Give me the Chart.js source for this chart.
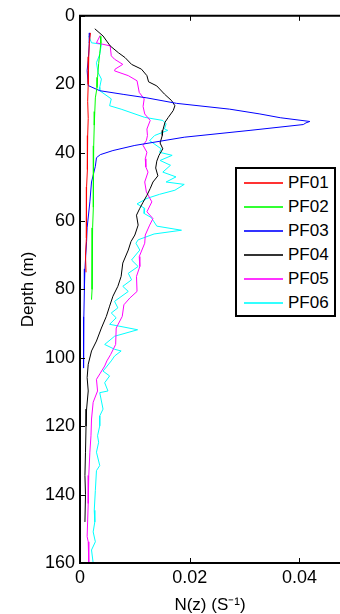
<!DOCTYPE html>
<html lang="en">
<head>
<meta charset="UTF-8">
<title>N(z) profiles PF01-PF06</title>
<script src="https://cdn.jsdelivr.net/npm/chart.js"></script>
<style>
  body { margin: 0; background: #fff; font-family: "Liberation Sans", Arial, sans-serif; }
  .wrap { position: relative; width: 340px; height: 614px; overflow: hidden; }
  #legend {
    position: absolute; left: 235px; top: 167px; width: 101px; height: 150px;
    box-sizing: border-box; border: 2px solid #000; background: #fff; padding-top: 2px;
  }
  .row { height: 24px; display: flex; align-items: center; font-size: 17px; color: #000; }
  .swatch { display: block; margin-left: 7px; width: 39px; height: 2px; margin-right: 5px; opacity: 0.8; flex: none; }
</style>
</head>
<body>
<div class="wrap">
  <canvas id="chart" width="340" height="614"></canvas>
  <div id="legend"></div>
</div>
<script>
// axes
const yTicks = [0, 20, 40, 60, 80, 100, 120, 140, 160];
const xTicks = [0, 0.02, 0.04];
const xTickLabels = ['0', '0.02', '0.04'];

// profiles: depth (m) and N(z) (s^-1)
const pf01Depth = [5, 8, 12, 16, 20, 25, 30, 35, 40, 45, 50, 55, 60, 65, 70, 75];
const pf01N = [0.0019, 0.0017, 0.0016, 0.0015, 0.0015, 0.0014, 0.0015, 0.0014, 0.0014, 0.0013, 0.0012, 0.0012, 0.0012, 0.0011, 0.0010, 0.0011];

const pf02Depth = [6, 8, 11, 14, 18, 21, 24, 28, 32, 38, 44, 50, 56, 62, 66, 70, 75, 80, 83];
const pf02N = [0.0037, 0.0038, 0.0036, 0.0034, 0.0032, 0.0031, 0.0028, 0.0027, 0.0026, 0.0025, 0.0025, 0.0024, 0.0024, 0.0023, 0.0022, 0.0022, 0.0022, 0.0022, 0.0021];

const pf03Depth = [5, 8, 13, 16, 20.4, 21.9, 23.0, 24.0, 25.6, 27.3, 28.7, 29.8, 30.9, 31.3, 31.8, 33.5, 35.5, 37.9, 39.4, 40.6, 41.5, 44, 48.6, 54.4, 62, 66, 74, 80, 88, 95, 103];
const pf03N = [0.0018, 0.0017, 0.0015, 0.0013, 0.0015, 0.0036, 0.0080, 0.0122, 0.0176, 0.0273, 0.0328, 0.0365, 0.0419, 0.0412, 0.0407, 0.0310, 0.0190, 0.0100, 0.0060, 0.0037, 0.0030, 0.0028, 0.0021, 0.0018, 0.0013, 0.0012, 0.0009, 0.0008, 0.0007, 0.0006, 0.0007];

const pf04Depth = [3.8, 5.9, 8.8, 10.8, 12.2, 14.2, 15.6, 17.5, 19.3, 20.5, 22.9, 24.8, 26.3, 27.7, 29.7, 31.1, 33.5, 35, 37.2, 38.9, 40.8, 42.5, 44.5, 46.8, 48.6, 50.5, 52.5, 54.5, 56.3, 58.3, 61.2, 64.1, 66, 68.5, 72.3, 76.2, 79.1, 82, 84.9, 87.9, 91.3, 95.1, 98, 101.9, 105.8, 109.7, 115, 120, 127.6, 134.4, 140, 148];
const pf04N = [0.0027, 0.0042, 0.0055, 0.0070, 0.0082, 0.0094, 0.0112, 0.0122, 0.0125, 0.0140, 0.0154, 0.0167, 0.0173, 0.0170, 0.0161, 0.0155, 0.0151, 0.0150, 0.0146, 0.0151, 0.0144, 0.0140, 0.0138, 0.0142, 0.0133, 0.0128, 0.0122, 0.0115, 0.0109, 0.0103, 0.0106, 0.0100, 0.0093, 0.0088, 0.0078, 0.0075, 0.0069, 0.0060, 0.0054, 0.0048, 0.0039, 0.0030, 0.0021, 0.0015, 0.0013, 0.0015, 0.0012, 0.0011, 0.0010, 0.0009, 0.0010, 0.0009];

const pf05Depth = [5.7, 7.9, 8.8, 11.7, 12.7, 14.2, 15.6, 16.1, 17.5, 19, 22.4, 24.3, 26.5, 28.7, 30.6, 33.1, 35, 36.5, 37.9, 39.9, 41.8, 44.2, 45.7, 48.6, 51.5, 54.4, 57.3, 59.3, 61.2, 64.1, 66.5, 70.4, 73.3, 76.2, 80.6, 82.5, 84.5, 87.9, 91.3, 96.1, 99, 100.9, 102.4, 104.5, 106.3, 109.7, 113, 117.9, 122.8, 127.6, 134.4, 142.6, 152.3, 153.8, 160];
const pf05N = [0.0037, 0.0030, 0.0055, 0.0057, 0.0063, 0.0078, 0.0064, 0.0063, 0.0088, 0.0104, 0.0108, 0.0117, 0.0115, 0.0118, 0.0128, 0.0122, 0.0123, 0.0121, 0.0115, 0.0122, 0.0119, 0.0120, 0.0124, 0.0118, 0.0121, 0.0131, 0.0122, 0.0133, 0.0127, 0.0119, 0.0118, 0.0108, 0.0109, 0.0103, 0.0104, 0.0091, 0.0080, 0.0077, 0.0066, 0.0065, 0.0056, 0.0049, 0.0045, 0.0037, 0.0030, 0.0032, 0.0024, 0.0021, 0.0020, 0.0018, 0.0016, 0.0015, 0.0013, 0.0015, 0.0016];

const pf06Depth = [5.9, 7.9, 8.3, 11.3, 13.7, 16.6, 18.5, 20.9, 21.9, 24.3, 26.3, 27.3, 29.7, 30.6, 31.6, 33.1, 33.5, 35, 36.5, 38.9, 39.9, 40.8, 42.3, 43.7, 45.7, 47.1, 48.6, 49.3, 51, 52.2, 53.4, 55, 56.3, 57.8, 59, 61.5, 62.7, 63.8, 65.5, 66.5, 68.5, 71.4, 73.3, 75.3, 77.2, 79.1, 80.6, 83.5, 85.4, 86.9, 88.3, 90.2, 91.8, 93.7, 96.1, 97.5, 98, 99.5, 100.9, 103.9, 105.3, 107.3, 109.7, 110.2, 115, 117, 119.9, 122.8, 124.7, 127.6, 131.5, 133, 138.8, 144.6, 148, 150.9, 153.8, 156.2, 160];
const pf06N = [0.0016, 0.0021, 0.0039, 0.0036, 0.0030, 0.0033, 0.0039, 0.0036, 0.0036, 0.0057, 0.0054, 0.0075, 0.0118, 0.0151, 0.0157, 0.0154, 0.0160, 0.0136, 0.0127, 0.0148, 0.0145, 0.0168, 0.0146, 0.0165, 0.0151, 0.0175, 0.0157, 0.0190, 0.0173, 0.0145, 0.0122, 0.0104, 0.0118, 0.0117, 0.0130, 0.0140, 0.0185, 0.0135, 0.0106, 0.0102, 0.0109, 0.0094, 0.0106, 0.0088, 0.0094, 0.0078, 0.0088, 0.0063, 0.0069, 0.0057, 0.0066, 0.0054, 0.0105, 0.0063, 0.0045, 0.0063, 0.0075, 0.0063, 0.0057, 0.0042, 0.0054, 0.0045, 0.0051, 0.0036, 0.0042, 0.0036, 0.0036, 0.0032, 0.0034, 0.0030, 0.0036, 0.0030, 0.0028, 0.0026, 0.0027, 0.0024, 0.0028, 0.0021, 0.0024];

const labels = ['PF01', 'PF02', 'PF03', 'PF04', 'PF05', 'PF06'];
const colors = ['#ff0000', '#00ff00', '#0000ff', '#000000', '#ff00ff', '#00ffff'];
const depths = [pf01Depth, pf02Depth, pf03Depth, pf04Depth, pf05Depth, pf06Depth];
const values = [pf01N, pf02N, pf03N, pf04N, pf05N, pf06N];

const FONT = '"Liberation Sans", Arial, sans-serif';

const datasets = labels.map((lab, i) => ({
  label: lab,
  data: depths[i].map((d, j) => ({ x: values[i][j], y: d })),
  borderColor: colors[i],
  borderWidth: 1,
  pointRadius: 0,
  showLine: true,
  tension: 0,
  fill: false
}));

// box + inward ticks, matlab style
const axesBox = {
  id: 'axesBox',
  afterDraw(chart) {
    const { ctx, chartArea: a, scales: { x, y } } = chart;
    ctx.save();
    ctx.strokeStyle = '#000';
    ctx.lineWidth = 1;
    ctx.beginPath();
    yTicks.forEach(v => {
      const py = Math.round(y.getPixelForValue(v)) + 0.5;
      ctx.moveTo(a.left, py); ctx.lineTo(a.left + 5, py);
    });
    xTicks.forEach(v => {
      const px = Math.round(x.getPixelForValue(v)) + 0.5;
      ctx.moveTo(px, a.bottom); ctx.lineTo(px, a.bottom - 5);
      ctx.moveTo(px, a.top); ctx.lineTo(px, a.top + 5);
    });
    ctx.stroke();
    ctx.lineWidth = 2;
    ctx.beginPath();
    ctx.moveTo(a.right + 2, a.top); ctx.lineTo(a.left, a.top);
    ctx.lineTo(a.left, a.bottom); ctx.lineTo(a.right + 2, a.bottom);
    ctx.stroke();
    ctx.restore();
  }
};

const chart = new Chart(document.getElementById('chart'), {
  type: 'scatter',
  data: { datasets },
  options: {
    responsive: false,
    animation: false,
    layout: { padding: { top: 13, right: 0, left: 0, bottom: 0 } },
    plugins: { legend: { display: false }, tooltip: { enabled: false } },
    scales: {
      x: {
        type: 'linear', position: 'bottom', min: 0, max: 0.0474,
        grid: { display: false, drawTicks: false },
        border: { display: false },
        afterBuildTicks: s => { s.ticks = xTicks.map(v => ({ value: v })); },
        afterFit: s => { s.height = 51; },
        ticks: {
          padding: 4, color: '#000', font: { family: FONT, size: 18 },
          maxRotation: 0, autoSkip: false,
          callback: (v, i) => xTickLabels[i]
        },
        title: {
          display: true, text: 'N(z) (S\u207B\u00B9)', color: '#000',
          font: { family: FONT, size: 17, lineHeight: 1 },
          padding: { top: 0, bottom: 0.5 }
        }
      },
      y: {
        type: 'linear', position: 'left', reverse: true, min: 0, max: 160,
        grid: { display: false, drawTicks: false },
        border: { display: false },
        afterBuildTicks: s => { s.ticks = yTicks.map(v => ({ value: v })); },
        afterFit: s => { s.width = 80; },
        ticks: { padding: 5, color: '#000', font: { family: FONT, size: 18 }, autoSkip: false },
        title: {
          display: true, text: 'Depth (m)', color: '#000',
          font: { family: FONT, size: 17, lineHeight: 1 },
          padding: { top: 19.5, bottom: 0 }
        }
      }
    }
  },
  plugins: [axesBox]
});

// legend built from the datasets
const legendEl = document.getElementById('legend');
chart.data.datasets.forEach(ds => {
  const row = document.createElement('div');
  row.className = 'row';
  const sw = document.createElement('span');
  sw.className = 'swatch';
  sw.style.backgroundColor = ds.borderColor;
  const txt = document.createElement('span');
  txt.textContent = ds.label;
  row.appendChild(sw);
  row.appendChild(txt);
  legendEl.appendChild(row);
});
</script>
</body>
</html>
